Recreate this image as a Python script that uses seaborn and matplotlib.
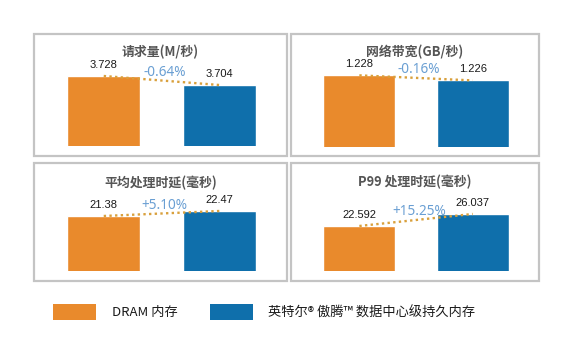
import matplotlib
matplotlib.use("Agg")
import matplotlib.pyplot as plt
from matplotlib.patches import Rectangle, Patch
import seaborn as sns
import pandas as pd

sns.set_theme(style="white")
plt.rcParams['font.family'] = ['Noto Sans CJK SC', 'DejaVu Sans']

# ---- data ----
titles = ["请求量(M/秒)", "网络带宽(GB/秒)", "平均处理时延(毫秒)", "P99 处理时延(毫秒)"]
series_names = ["DRAM 内存", "英特尔® 傲腾™ 数据中心级持久内存"]
dram_values = [3.728, 1.228, 21.38, 22.592]
pmem_values = [3.704, 1.226, 22.47, 26.037]
value_labels_dram = ["3.728", "1.228", "21.38", "22.592"]
value_labels_pmem = ["3.704", "1.226", "22.47", "26.037"]
change_labels = ["-0.64%", "-0.16%", "+5.10%", "+15.25%"]

# ---- style / layout ----
ORANGE = "#E98A2C"
BLUE = "#0F6FAB"
DOT = "#D9A03C"
PCT = "#6A9FD3"
BOX = "#C4C4C4"
W, H = 573, 343
fig = plt.figure(figsize=(W / 100, H / 100), dpi=100)

# panel boxes in pixels: (left, top, right, bottom), bar baseline
boxes = [(34, 34, 287, 156), (291, 34, 539, 156), (34, 163, 287, 281), (291, 163, 539, 281)]
baselines = [146, 147, 271, 271]
# axis value ranges (truncated axes like the original)
ylims = [(3.5413, 3.8400), (1.1996, 1.2444), (9.39, 32.93), (9.67, 40.67)]
title_y = [52, 52, 183, 182]

def fx(px):
    return px / W

def fy(py):
    return 1 - py / H

for i in range(4):
    l, t, r, b = boxes[i]
    fig.patches.append(Rectangle((fx(l), fy(b)), fx(r - l), (b - t) / H,
                                 transform=fig.transFigure, fill=False,
                                 edgecolor=BOX, linewidth=1.6, zorder=0))
    base = baselines[i]
    ax = fig.add_axes([fx(l), fy(base), fx(r - l), (base - t) / H])
    df = pd.DataFrame({"series": series_names, "value": [dram_values[i], pmem_values[i]]})
    sns.barplot(data=df, x="series", y="value", hue="series",
                palette=[ORANGE, BLUE], width=0.635, ax=ax, legend=False,
                saturation=1)
    ax.set_xlim(-0.603, 1.585)
    ax.set_ylim(*ylims[i])
    ax.axis("off")
    v = [dram_values[i], pmem_values[i]]
    ax.plot([0, 1], v, linestyle=(0, (1, 1.4)), color=DOT, linewidth=1.7, zorder=5)
    labs = [value_labels_dram[i], value_labels_pmem[i]]
    for k in range(2):
        ax.annotate(labs[k], (k, v[k]), xytext=(0, 4.5), textcoords="offset points",
                    ha="center", va="bottom", fontsize=8, color="#1a1a1a",
                    family=["Liberation Sans", "DejaVu Sans"])
    ax.annotate(change_labels[i], (0.5, (v[0] + v[1]) / 2), xytext=(2, 0.5),
                textcoords="offset points", ha="center", va="bottom",
                fontsize=9.8, color=PCT, family=["Noto Sans", "DejaVu Sans"], zorder=6)
    fig.text(fx((l + r) / 2), fy(title_y[i]), titles[i], ha="center", va="center",
             fontsize=9.3, color="#555555", fontweight="bold")

handles = [Patch(facecolor=ORANGE, edgecolor="none"), Patch(facecolor=BLUE, edgecolor="none")]
fig.legend(handles, series_names, loc="center left", bbox_to_anchor=(fx(41), fy(312)),
           ncol=2, frameon=False, handlelength=3.3, handleheight=1.6,
           handletextpad=1.15, columnspacing=2.45, labelcolor="#1a1a1a",
           prop={"family": ["Noto Sans CJK SC", "DejaVu Sans"], "size": 9.5})

fig.savefig("out.png", dpi=100, facecolor="white")
